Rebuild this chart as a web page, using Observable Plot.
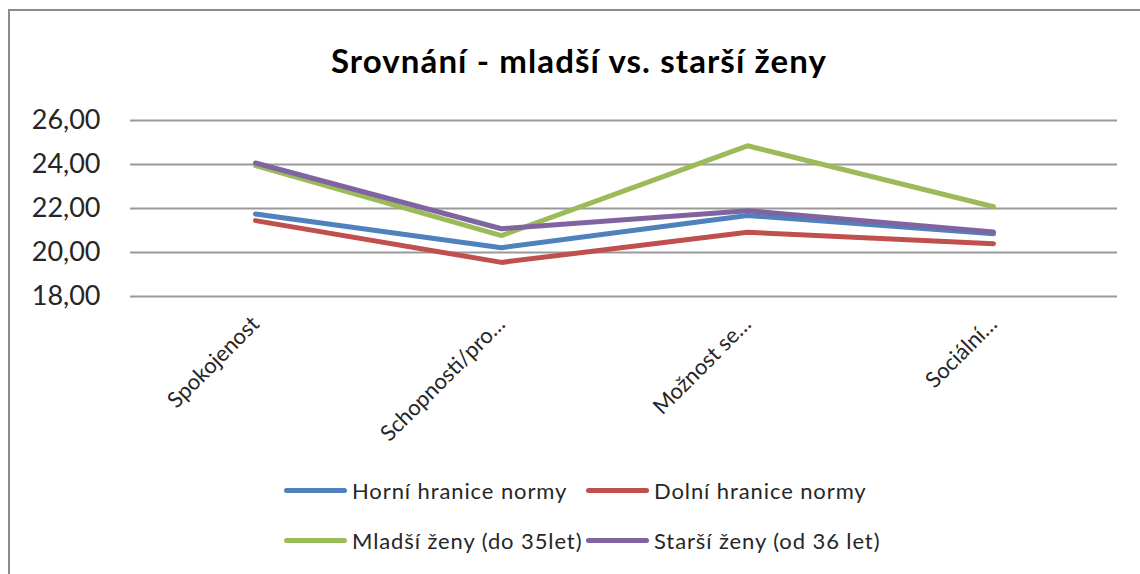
<!DOCTYPE html>
<html>
<head>
<meta charset="utf-8">
<script src="https://cdn.jsdelivr.net/npm/d3@7"></script>
<script src="https://cdn.jsdelivr.net/npm/@observablehq/plot@0.6"></script>
<style>
  html, body { margin: 0; padding: 0; background: #fff; }
  #wrap { position: relative; width: 1140px; height: 574px; overflow: hidden; font-family: Lato, "Open Sans", sans-serif; }
  #frame { position: absolute; left: 8px; top: 9px; width: 1200px; height: 600px; border-top: 2px solid #8c8c8c; border-left: 2px solid #8c8c8c; }
  #title { position: absolute; left: 0; width: 1158px; top: 40px; text-align: center; font-size: 33px; letter-spacing: 1.1px; font-weight: 700; color: #000; }
  #chart { position: absolute; left: 0; top: 0; }
  .leg { position: absolute; display: flex; align-items: center; font-size: 22px; letter-spacing: 0.9px; color: #262626; white-space: nowrap; }
  .sw { display: inline-block; width: 63px; height: 5px; border-radius: 3px; margin-right: 5px; }
</style>
</head>
<body>
<div id="wrap">
  <div id="frame"></div>
  <div id="title">Srovnání - mladší vs. starší ženy</div>
  <div id="chart"></div>
  <div id="legend"></div>
</div>
<script>
const categories = ["Spokojenost", "Schopnosti/pro…", "Možnost se…", "Sociální…"];
const horniHranice = [21.75, 20.22, 21.68, 20.85];
const dolniHranice = [21.45, 19.55, 20.92, 20.40];
const mladsiZeny = [23.95, 20.77, 24.85, 22.08];
const starsiZeny = [24.07, 21.08, 21.90, 20.93];
const seriesNames = ["Horní hranice normy", "Dolní hranice normy", "Mladší ženy (do 35let)", "Starší ženy (od 36 let)"];
const seriesColors = ["#4F81BD", "#C0504D", "#9BBB59", "#8064A2"];
const yTicks = [18, 20, 22, 24, 26];

const seriesValues = [horniHranice, dolniHranice, mladsiZeny, starsiZeny];
const rows = [];
seriesValues.forEach((vals, si) => {
  vals.forEach((v, i) => rows.push({series: seriesNames[si], cat: categories[i], value: v}));
});

const fmt = d => d.toFixed(2).replace(".", ",");

const plot = Plot.plot({
  width: 1140,
  height: 470,
  marginLeft: 130,
  marginRight: 23,
  marginTop: 120,
  marginBottom: 174,
  style: {background: "transparent", color: "#262626", fontFamily: "Lato, 'Open Sans', sans-serif"},
  x: {type: "point", domain: categories, padding: 0.5},
  y: {domain: [18, 26], ticks: yTicks},
  color: {domain: seriesNames, range: seriesColors},
  marks: [
    Plot.gridY(yTicks, {stroke: "#999", strokeOpacity: 1, strokeWidth: 2}),
    Plot.axisY(yTicks, {tickSize: 0, tickPadding: 30, tickFormat: fmt, fontSize: 27, label: null}),
    Plot.axisX({tickSize: 0, tickRotate: -45, tickPadding: 24, fontSize: 22, label: null}),
    Plot.line(rows, {x: "cat", y: "value", z: "series", stroke: "series", strokeWidth: 5, strokeLinejoin: "round", strokeLinecap: "round"})
  ]
});
document.getElementById("chart").appendChild(plot);

// legend built from series arrays
const legendPos = [[284, 490], [586, 490], [284, 540], [586, 540]];
const legend = document.getElementById("legend");
seriesNames.forEach((name, i) => {
  const d = document.createElement("div");
  d.className = "leg";
  d.style.left = legendPos[i][0] + "px";
  d.style.top = (legendPos[i][1] - 14) + "px";
  d.style.height = "28px";
  d.innerHTML = `<span class="sw" style="background:${seriesColors[i]}"></span><span>${name}</span>`;
  legend.appendChild(d);
});
</script>
</body>
</html>
